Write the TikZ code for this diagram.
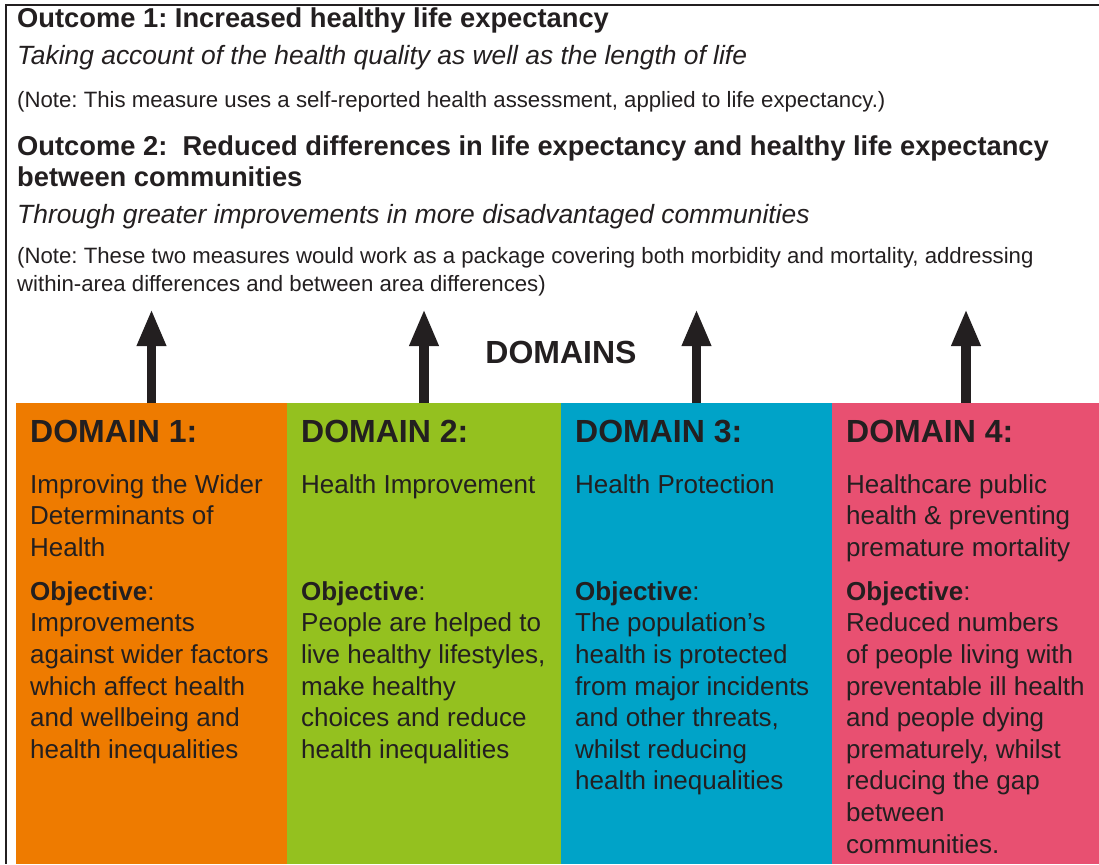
\documentclass[tikz,border=0pt]{standalone}
\usepackage{fontspec}
\setmainfont{Liberation Sans}
\usetikzlibrary{positioning, arrows.meta}
\frenchspacing

\definecolor{ink}{RGB}{35,31,32}
\definecolor{dom orange}{RGB}{238,123,0}
\definecolor{dom green}{RGB}{148,193,31}
\definecolor{dom blue}{RGB}{0,163,200}
\definecolor{dom pink}{RGB}{232,80,113}

\tikzset{
  outcome/.style={inner sep=0pt, text=ink, align=left, font=\fontsize{27.3}{31}\selectfont\bfseries},
  aim/.style={anchor=base west, inner sep=0pt, text=ink, font=\fontsize{26.4}{31}\selectfont\itshape},
  notetext/.style={inner sep=0pt, text=ink, align=left, font=\fontsize{22.2}{28}\selectfont},
  dombox/.style={anchor=north west, minimum height=461pt, inner sep=0pt, outer sep=0pt},
  domtitle/.style={anchor=base west, inner sep=0pt, text=ink, font=\fontsize{32}{38}\selectfont\bfseries},
  domtext/.style={anchor=north west, inner sep=0pt, text=ink, align=left, font=\fontsize{26}{31.6}\selectfont},
  bigarrow/.style={draw=ink, line width=9.5pt, -{Triangle[width=27pt,length=37pt]}}
}

\begin{document}
\begin{tikzpicture}[x=1pt,y=-1pt]
    \useasboundingbox (0,0) rectangle (1099,864);
    \fill[white] (0,0) rectangle (1099,864);

    % outcomes
    \node[outcome, anchor=base west] (outcome 1) at (17,27.5) {Outcome 1: Increased healthy life expectancy};
    \node[aim] (aim 1) at (17,65) {Taking account of the health quality as well as the length of life};
    \node[notetext, anchor=base west] (note 1) at (17,108) {(Note: This measure uses a self-reported health assessment, applied to life expectancy.)};

    \node[outcome, anchor=north west] (outcome 2) at (17,133.3) {\strut Outcome 2:\ \ Reduced differences in life expectancy and healthy life expectancy\\between communities};
    \node[aim] (aim 2) at (17,223) {Through greater improvements in more disadvantaged communities};
    \node[notetext, anchor=north west] (note 2) at (17,243.4) {\strut(Note: These two measures would work as a package covering both morbidity and mortality, addressing\\within-area differences and between area differences)};

    \node[anchor=base, inner sep=0pt, text=ink, font=\fontsize{32}{38}\selectfont\bfseries] (domains) at (561,363) {DOMAINS};

    % domains
    \node[dombox, fill=dom orange, minimum width=271pt] (dom 1) at (16,403) {};
    \node[dombox, fill=dom green, minimum width=274pt, right=0pt of dom 1] (dom 2) {};
    \node[dombox, fill=dom blue, minimum width=271pt, right=0pt of dom 2] (dom 3) {};
    \node[dombox, fill=dom pink, minimum width=268pt, right=0pt of dom 3] (dom 4) {};

    \draw[line width=2.5pt, draw=ink] (1099,5) -| (6,864);

    \foreach \i in {1,2,...,4}
    \node[domtitle] (title \i) at ([xshift=14pt,yshift=-39pt]dom \i.north west) {DOMAIN \i:};

    \node[domtext] (area 1) at ([xshift=14pt,yshift=-67.9pt]dom 1.north west) {\strut Improving the Wider\\Determinants of\\Health};
    \node[domtext] (area 2) at ([xshift=14pt,yshift=-67.9pt]dom 2.north west) {\strut Health Improvement};
    \node[domtext] (area 3) at ([xshift=14pt,yshift=-67.9pt]dom 3.north west) {\strut Health Protection};
    \node[domtext] (area 4) at ([xshift=14pt,yshift=-67.9pt]dom 4.north west) {\strut Healthcare public\\health \& preventing\\premature mortality};

    \node[domtext] (goal 1) at ([xshift=14pt,yshift=-174.9pt]dom 1.north west) {\strut\textbf{Objective}:\\Improvements\\against wider factors\\which affect health\\and wellbeing and\\health inequalities};
    \node[domtext] (goal 2) at ([xshift=14pt,yshift=-174.9pt]dom 2.north west) {\strut\textbf{Objective}:\\People are helped to\\live healthy lifestyles,\\make healthy\\choices and reduce\\health inequalities};
    \node[domtext] (goal 3) at ([xshift=14pt,yshift=-174.9pt]dom 3.north west) {\strut\textbf{Objective}:\\The population’s\\health is protected\\from major incidents\\and other threats,\\whilst reducing\\health inequalities};
    \node[domtext] (goal 4) at ([xshift=14pt,yshift=-174.9pt]dom 4.north west) {\strut\textbf{Objective}:\\Reduced numbers\\of people living with\\preventable ill health\\and people dying\\prematurely, whilst\\reducing the gap\\between\\communities.};

    % arrows up to the outcomes
    \foreach \i in {1,2,...,4}
    \coordinate (tip \i) at ([yshift=94pt]dom \i.north);
    \foreach \i in {1,2,...,4}
    \draw[bigarrow] (dom \i.north) -- (tip \i);

\end{tikzpicture}
\end{document}
